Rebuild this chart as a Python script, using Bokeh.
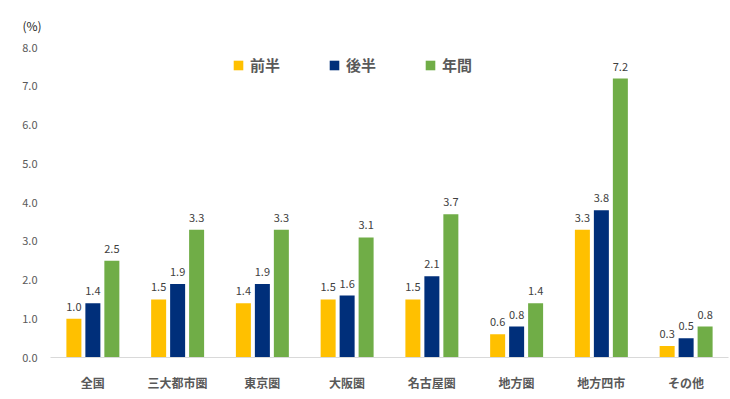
from bokeh.plotting import figure
from bokeh.models import ColumnDataSource, FactorRange, Legend, LegendItem, NumeralTickFormatter, FixedTicker
from bokeh.transform import dodge
from bokeh.core.properties import value
from bokeh.embed import file_html
from bokeh.resources import INLINE

categories = ["全国", "三大都市圏", "東京圏", "大阪圏", "名古屋圏", "地方圏", "地方四市", "その他"]
series_names = ["前半", "後半", "年間"]
first_half = [1.0, 1.5, 1.4, 1.5, 1.5, 0.6, 3.3, 0.3]
second_half = [1.4, 1.9, 1.9, 1.6, 2.1, 0.8, 3.8, 0.5]
full_year = [2.5, 3.3, 3.3, 3.1, 3.7, 1.4, 7.2, 0.8]
y_ticks = [0, 1, 2, 3, 4, 5, 6, 7, 8]

colors = ["#FFC000", "#002F7A", "#70AD47"]
FONT = "Noto Sans CJK JP"

src = ColumnDataSource(dict(
    cat=categories,
    a=first_half, b=second_half, c=full_year,
    ta=["%.1f" % v for v in first_half],
    tb=["%.1f" % v for v in second_half],
    tc=["%.1f" % v for v in full_year],
))

p = figure(x_range=FactorRange(*categories), y_range=(0, 8),
           width=730, height=399, output_backend="svg", toolbar_location=None,
           min_border_left=50, min_border_right=2, min_border_top=47, min_border_bottom=42)
p.outline_line_color = None
p.xgrid.grid_line_color = None
p.ygrid.grid_line_color = None
p.x_range.range_padding = 0

p.title.text = "(%)"
p.title.align = "left"
p.title.vertical_align = "top"
p.title.offset = -28
p.title.standoff = 23
p.title.text_font = FONT
p.title.text_font_size = "12px"
p.title.text_font_style = "normal"
p.title.text_color = "#262626"

offsets = [-0.224, 0.0, 0.224]
renderers = []
for col, off, colr in zip(["a", "b", "c"], offsets, colors):
    r = p.vbar(x=dodge("cat", off, range=p.x_range), top=col, width=0.177, source=src,
               fill_color=colr, line_color=None)
    renderers.append(r)
    p.text(x=dodge("cat", off, range=p.x_range), y=col, text="t" + col, source=src,
           text_align="center", text_baseline="bottom", y_offset=-8,
           text_font=value(FONT), text_font_size="11px", text_color="#404040")

# axes
p.yaxis.ticker = FixedTicker(ticks=y_ticks)
p.yaxis.formatter = NumeralTickFormatter(format="0.0")
p.yaxis.axis_line_color = None
p.yaxis.major_tick_line_color = None
p.yaxis.minor_tick_line_color = None
p.yaxis.major_label_text_font = FONT
p.yaxis.major_label_text_font_size = "11px"
p.yaxis.major_label_text_color = "#595959"
p.yaxis.major_label_standoff = 7

p.xaxis.axis_line_color = "#D9D9D9"
p.xaxis.axis_line_width = 1
p.xaxis.major_tick_line_color = None
p.xaxis.minor_tick_line_color = None
p.xaxis.major_label_text_font = FONT
p.xaxis.major_label_text_font_size = "12px"
p.xaxis.major_label_text_font_style = "bold"
p.xaxis.major_label_text_color = "#595959"
p.xaxis.major_label_standoff = 10

legend = Legend(items=[LegendItem(label=n, renderers=[r]) for n, r in zip(series_names, renderers)],
                orientation="horizontal", location=(182, 282),
                padding=0, margin=0, spacing=48, label_standoff=6,
                glyph_width=12, glyph_height=12, label_height=20,
                label_text_font=FONT, label_text_font_size="15px", label_text_font_style="bold",
                label_text_color="#595959", border_line_color=None, background_fill_alpha=0)
p.add_layout(legend)

open("out.html", "w").write(file_html(p, INLINE))
